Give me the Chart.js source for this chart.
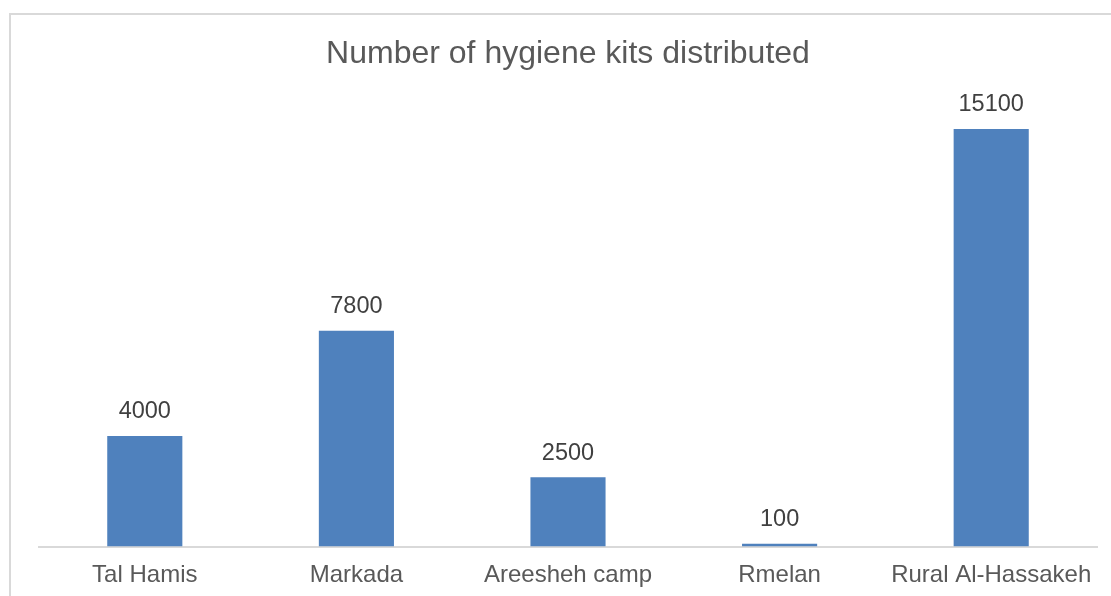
<!DOCTYPE html>
<html>
<head>
<meta charset="utf-8">
<script src="https://cdn.jsdelivr.net/npm/chart.js@4.4.0/dist/chart.umd.min.js"></script>
<style>
  html, body { margin: 0; padding: 0; background: #fff; overflow: hidden; }
  #wrap { position: relative; width: 1111px; height: 596px; }
  #frame { position: absolute; left: 9px; top: 13px; width: 1200px; height: 700px; border: 2px solid #D9D9D9; box-sizing: border-box; }
  canvas { position: absolute; left: 0; top: 0; }
</style>
</head>
<body>
<div id="wrap">
  <div id="frame"></div>
  <canvas id="c" width="1111" height="596"></canvas>
</div>
<script>
const categories = ["Tal Hamis", "Markada", "Areesheh camp", "Rmelan", "Rural Al-Hassakeh"];
const kitsDistributed = [4000, 7800, 2500, 100, 15100];
const chartTitle = "Number of hygiene kits distributed";

const FONT = '"Liberation Sans", Arial, sans-serif';

const dataLabels = {
  id: 'dataLabels',
  afterDatasetsDraw(chart) {
    const ctx = chart.ctx;
    const meta = chart.getDatasetMeta(0);
    ctx.save();
    ctx.font = '23.5px ' + FONT;
    ctx.fillStyle = '#404040';
    ctx.textAlign = 'center';
    ctx.textBaseline = 'middle';
    meta.data.forEach((bar, i) => {
      ctx.fillText(String(chart.data.datasets[0].data[i]), bar.x, bar.y - 24);
    });
    ctx.restore();
  }
};

new Chart(document.getElementById('c'), {
  type: 'bar',
  data: {
    labels: categories,
    datasets: [{
      data: kitsDistributed,
      backgroundColor: '#4F81BD',
      borderWidth: 0,
      categoryPercentage: 1.0,
      barPercentage: 0.355
    }]
  },
  options: {
    responsive: false,
    animation: false,
    devicePixelRatio: 1,
    layout: { padding: { left: 39, right: 14, top: 0, bottom: 0 } },
    plugins: {
      legend: { display: false },
      tooltip: { enabled: false },
      title: {
        display: true,
        text: chartTitle,
        color: '#595959',
        font: { family: FONT, size: 32, weight: 'normal' },
        padding: { top: 35, bottom: 30.6 }
      }
    },
    scales: {
      x: {
        grid: { display: false, drawTicks: false },
        border: { display: true, color: '#D9D9D9', width: 2 },
        ticks: {
          color: '#595959',
          font: { family: FONT, size: 24 },
          padding: 14,
          maxRotation: 0,
          autoSkip: false
        },
        afterFit(scale) { scale.height = 49.5; }
      },
      y: {
        display: false,
        min: 0,
        max: 16000
      }
    }
  },
  plugins: [dataLabels]
});
</script>
</body>
</html>
